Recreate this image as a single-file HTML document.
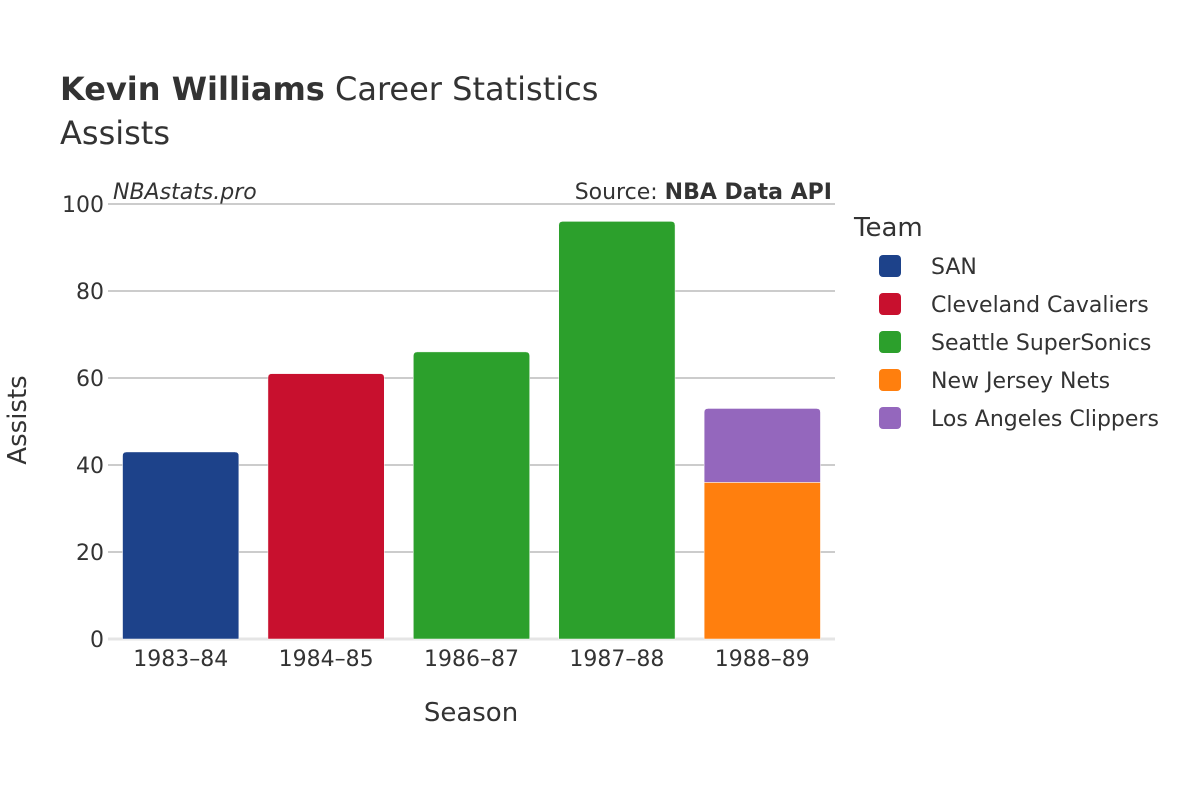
<!DOCTYPE html>
<html><head><meta charset="utf-8"><style>
body{margin:0;background:#fff;}
svg{font-family:"DejaVu Sans","Liberation Sans",sans-serif;}
</style></head><body>
<svg id="chart" width="1200" height="800" xmlns="http://www.w3.org/2000/svg">
<rect width="1200" height="800" fill="#fff"/>
<text x="60" y="100" font-size="32" fill="#333"><tspan font-weight="bold">Kevin Williams</tspan> Career Statistics</text>
<text x="60" y="144" font-size="32" fill="#333">Assists</text>
<g id="grid"></g>
<g id="bars"></g>
<g id="xticks"></g>
<g id="yticks"></g>
<text x="113" y="199" font-size="22" font-style="italic" fill="#333">NBAstats.pro</text>
<text x="832" y="199" font-size="22" text-anchor="end" fill="#333">Source: <tspan font-weight="bold">NBA Data API</tspan></text>
<text x="471" y="721" font-size="26" text-anchor="middle" fill="#333">Season</text>
<text transform="translate(26,420) rotate(-90)" font-size="26" text-anchor="middle" fill="#333">Assists</text>
<text x="854" y="236" font-size="26" fill="#333">Team</text>
<g id="legend"></g>
</svg>
<script>
const seasons=["1983–84","1984–85","1986–87","1987–88","1988–89"];
const teams=["SAN","Cleveland Cavaliers","Seattle SuperSonics","New Jersey Nets","Los Angeles Clippers"];
const colors=["#1d428a","#c8102e","#2ca02c","#ff7f0e","#9467bd"];
// values per team per season
const sanVals=[43,0,0,0,0];
const cleVals=[0,61,0,0,0];
const seaVals=[0,0,66,96,0];
const njnVals=[0,0,0,0,36];
const lacVals=[0,0,0,0,17];
const yTicks=[0,20,40,60,80,100];
const series=[sanVals,cleVals,seaVals,njnVals,lacVals];
const NS="http://www.w3.org/2000/svg";
const x0=108,x1=835,y0=639,y1=204,yMax=100;
const band=(x1-x0)/seasons.length;
const xc=i=>x0+band*(i+0.5);
const y=v=>y0-(v/yMax)*(y0-y1);
function mk(t,a,p){const e=document.createElementNS(NS,t);for(const k in a)e.setAttribute(k,a[k]);p.appendChild(e);return e;}
const grid=document.getElementById('grid'),yt=document.getElementById('yticks');
yTicks.forEach(v=>{
 const l=mk('line',{x1:x0,x2:x1,y1:y(v),y2:y(v),stroke:v===0?'#e5e5e5':'#999','stroke-width':v===0?3:1},grid);
 
 
 const t=mk('text',{x:x0-4,y:y(v)+8,'font-size':22,'text-anchor':'end',fill:'#333'},yt);
 t.textContent=v;
 
 
});
const bars=document.getElementById('bars'),xt=document.getElementById('xticks');
const bw=band*0.8;
seasons.forEach((s,i)=>{
 let base=0;const segs=[];
 series.forEach((arr,k)=>{if(arr[i]>0){segs.push([k,base,arr[i]]);base+=arr[i];}});
 segs.forEach(([k,b,v],j)=>{
  const top=j===segs.length-1,r=top?4:0;
  const xl=xc(i)-bw/2,xr=xc(i)+bw/2,yb=y(b),yt2=y(b+v);
  const d=`M${xl},${yb}L${xl},${yt2+r}Q${xl},${yt2} ${xl+r},${yt2}L${xr-r},${yt2}Q${xr},${yt2} ${xr},${yt2+r}L${xr},${yb}Z`;
  const p=mk('path',{d:d,fill:colors[k],stroke:'#fff','stroke-width':0.5},bars);
  
  
 });
 const t=mk('text',{x:xc(i),y:666,'font-size':22,'text-anchor':'middle',fill:'#333'},xt);
 t.textContent=s;
 
 
});
const lg=document.getElementById('legend');
teams.forEach((tm,k)=>{
 const g=mk('g',{},lg);
 
 
 const cy=266+k*38;
 mk('rect',{x:879,y:cy-11,width:22,height:22,rx:4,fill:colors[k]},g);
 const t=mk('text',{x:931,y:cy+8,'font-size':22,fill:'#333'},g);
 t.textContent=tm;
});
</script>
</body></html>
